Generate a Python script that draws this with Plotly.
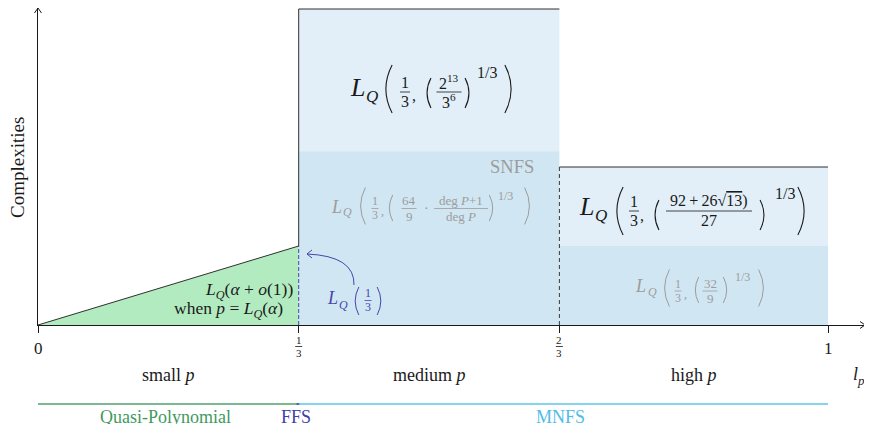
import plotly.graph_objects as go

W, H = 864, 416          # figure size; the page adds an 8px body margin
OFF = 8
SERIF = "Liberation Serif"

# ---------------- data ----------------
boundaries = [0, 0.33, 0.66, 1]
tick_labels = ["0", "1/3", "2/3", "1"]
regime_labels = ["small <i>p</i>", "medium <i>p</i>", "high <i>p</i>"]
quasi_poly_top = 2.5          # L_Q(1/3) reached at l_p = 1/3
medium_mnfs = 10              # MNFS complexity, medium p
medium_snfs = 5.5             # SNFS complexity, medium p
high_mnfs = 5                 # MNFS complexity, high p
high_snfs = 2.5               # SNFS complexity, high p
algo_names = ["Quasi-Polynomial", "FFS", "MNFS"]
algo_from = [0, 0.33, 0.33]
algo_to = [0.33, 0.33, 1]
algo_colors = ["#4f9f6c", "#4545ad", "#5cc6ea"]
algo_text_colors = ["#3f9a60", "#4040aa", "#4dbde6"]

# ---------------- geometry (page pixels) ----------------
X0PX, XPX = 38, 790      # x=0 pixel, pixels per unit
Y0PX, YPX = 325, 31.6    # y=0 pixel, pixels per unit
X_END, Y_END = 827 / XPX, 317 / YPX

LIGHT = "#e2eff8"
DARK = "#d1e6f3"
GREEN = "#b3ebc1"
GRAY = "#9c9c9c"
INK = "#1a1a1a"


def dx(v):
    return X0PX + v * XPX


def dy(v):
    return Y0PX - v * YPX


def pp(px, py):
    return (px - OFF) / W, 1 - (py - OFF) / H


annotations = []
shapes = []


def txt(s, px, py, size, color=INK, xanchor="center", angle=0):
    x, y = pp(px, py)
    annotations.append(dict(text=s, x=x, y=y, xref="paper", yref="paper", showarrow=False,
                            xanchor=xanchor, yanchor="middle", textangle=angle, borderpad=0,
                            font=dict(family=SERIF, size=size, color=color)))


def hline(x0, x1, py, color, width=0.9):
    a, b = pp(x0, py)
    c, _ = pp(x1, py)
    shapes.append(dict(type="line", xref="paper", yref="paper", x0=a, x1=c, y0=b, y1=b,
                       line=dict(color=color, width=width)))


def frac(num, den, cx, ybar, size, color, hw):
    txt(num, cx, ybar - 0.6 * size, size, color)
    txt(den, cx, ybar + 0.58 * size, size, color)
    hline(cx - hw, cx + hw, ybar, color, 0.8)


def paren(side, cx, cy, h, color, width=1.1):
    bw = 0.13 * h
    sgn = 1 if side == "(" else -1
    xe = cx + sgn * bw / 2
    xm = cx - sgn * bw / 2
    xc = 2 * xm - xe
    x0, y0 = pp(xe, cy - h / 2)
    x1, y1 = pp(xe, cy + h / 2)
    xcp, ycp = pp(xc, cy)
    shapes.append(dict(type="path", xref="paper", yref="paper",
                       path=f"M {x0:.5f},{y0:.5f} Q {xcp:.5f},{ycp:.5f} {x1:.5f},{y1:.5f}",
                       line=dict(color=color, width=width)))


def chevron(tipx, tipy, ax, ay, bx, by, color, width=1):
    a = pp(tipx, tipy)
    b = pp(ax, ay)
    c = pp(bx, by)
    shapes.append(dict(type="path", xref="paper", yref="paper",
                       path=f"M {b[0]:.5f},{b[1]:.5f} L {a[0]:.5f},{a[1]:.5f} L {c[0]:.5f},{c[1]:.5f}",
                       line=dict(color=color, width=width)))


fig = go.Figure()

# ---------------- regions ----------------
b0, b1, b2, b3 = boundaries
rects = [(b1, b2, medium_snfs, medium_mnfs, LIGHT), (b1, b2, 0, medium_snfs, DARK),
         (b2, b3, high_snfs, high_mnfs, LIGHT), (b2, b3, 0, high_snfs, DARK)]
for x0, x1, y0, y1, c in rects:
    shapes.append(dict(type="rect", xref="x", yref="y", x0=x0, x1=x1, y0=y0, y1=y1,
                       fillcolor=c, line=dict(width=0), layer="below"))

fig.add_trace(go.Scatter(x=[b0, b1, b1, b0], y=[0, 0, quasi_poly_top, 0], fill="toself",
                         fillcolor=GREEN, mode="lines", line=dict(width=0), hoverinfo="skip"))
fig.add_trace(go.Scatter(x=[b0, b1], y=[0, quasi_poly_top], mode="lines",
                         line=dict(color=INK, width=0.9), hoverinfo="skip"))
# borders
fig.add_trace(go.Scatter(x=[b1, b1, b2], y=[quasi_poly_top, medium_mnfs, medium_mnfs], mode="lines",
                         line=dict(color=INK, width=0.9), hoverinfo="skip"))
fig.add_trace(go.Scatter(x=[b2, b3], y=[high_mnfs, high_mnfs], mode="lines",
                         line=dict(color=INK, width=0.9), hoverinfo="skip"))
fig.add_trace(go.Scatter(x=[b2, b2], y=[0, high_mnfs], mode="lines",
                         line=dict(color="#3a3a3a", width=1, dash="4px,3px"), hoverinfo="skip"))
fig.add_trace(go.Scatter(x=[b1, b1], y=[0, quasi_poly_top], mode="lines",
                         line=dict(color=algo_colors[1], width=1, dash="4px,2px"), hoverinfo="skip"))

# axis arrowheads
chevron(dx(0), dy(Y_END), dx(0) - 3.5, dy(Y_END) + 5, dx(0) + 3.5, dy(Y_END) + 5, INK)
chevron(dx(X_END), dy(0), dx(X_END) - 5, dy(0) - 3.5, dx(X_END) - 5, dy(0) + 3.5, INK)

# ---------------- tick labels ----------------
for v, lab in zip(boundaries, tick_labels):
    if "/" in lab:
        n, d = lab.split("/")
        frac(n, d, dx(v), 346.5, 11, INK, 3.5)
    else:
        txt(lab, dx(v), 348, 17)

for i, lab in enumerate(regime_labels):
    txt(lab, dx((boundaries[i] + boundaries[i + 1]) / 2), 375, 18)
txt("<i>l</i>", 855, 374, 18)
txt("<i>p</i>", 861, 380, 13)
txt("Complexities", 17, 168, 19, angle=-90)

# algorithm bands
for name, a, b, lc, tc in zip(algo_names, algo_from, algo_to, algo_colors, algo_text_colors):
    if a == b:
        hline(dx(a) - 2, dx(b) + 1, 404, lc, 1.6)
        txt(name, dx(a) - 3, 417, 18, tc)
    else:
        hline(dx(a), dx(b), 404, lc, 1.6)
        txt(name, (dx(a) + dx(b)) / 2 - 3, 417, 18, tc)

# ---------------- formulas ----------------
# medium p, MNFS
txt("<i>L</i>", 357, 87, 26)
txt("<i>Q</i>", 372, 96, 17)
paren("(", 389, 89, 48, INK)
frac("1", "3", 405, 92, 16, INK, 5)
txt(",", 414, 95, 16)
paren("(", 429, 93, 30, INK)
frac("2<sup>13</sup>", "3<sup>6</sup>", 449, 92, 16, INK, 12.5)
paren(")", 467, 93, 30, INK)
txt("1/3", 487, 72, 16)
paren(")", 508, 89, 48, INK)

# medium p, SNFS
txt("SNFS", 512, 167, 18.5, GRAY)
txt("<i>L</i>", 336, 207, 18, GRAY)
txt("<i>Q</i>", 347, 212, 12, GRAY)
paren("(", 363, 206, 37, GRAY, 1)
frac("1", "3", 375, 208.5, 12, GRAY, 3.5)
txt(",", 382, 211, 12, GRAY)
paren("(", 391, 208, 26, GRAY, 1)
frac("64", "9", 409, 208.5, 13, GRAY, 7.5)
txt("·", 426, 208, 14, GRAY)
frac("deg <i>P</i>+1", "deg <i>P</i>", 461, 208.5, 13, GRAY, 27)
paren(")", 491, 208, 26, GRAY, 1)
txt("1/3", 505, 196, 12, GRAY)
paren(")", 527, 206, 37, GRAY, 1)

# high p, MNFS
txt("<i>L</i>", 586, 206, 26)
txt("<i>Q</i>", 601, 215, 17)
paren("(", 620, 211, 48, INK)
frac("1", "3", 634, 211, 16, INK, 5)
txt(",", 642, 215, 16)
paren("(", 657, 215, 30, INK)
frac("92\u2009+\u200926√<span style='text-decoration:overline'>13</span>)", "27", 709, 211, 16, INK, 43)
paren(")", 762, 215, 30, INK)
txt("1/3", 785, 193, 16)
paren(")", 801, 211, 48, INK)

# high p, SNFS
txt("<i>L</i>", 640, 286, 18, GRAY)
txt("<i>Q</i>", 652, 292, 12, GRAY)
paren("(", 667, 288, 37, GRAY, 1)
frac("1", "3", 678, 291, 12, GRAY, 3.5)
txt(",", 685, 294, 12, GRAY)
paren("(", 697, 290, 26, GRAY, 1)
frac("32", "9", 710, 291, 13, GRAY, 7.5)
paren(")", 725, 290, 26, GRAY, 1)
txt("1/3", 742, 277, 12, GRAY)
paren(")", 761, 288, 37, GRAY, 1)

# small p, quasi-polynomial
txt("<i>L</i><sub><i>Q</i></sub>(<i>α</i> + <i>o</i>(1))", 294, 290, 17.5, xanchor="right")
txt("when <i>p</i> = <i>L</i><sub><i>Q</i></sub>(<i>α</i>)", 284, 309, 17.5, xanchor="right")

# FFS label and arrow
FFS = algo_colors[1]
txt("<i>L</i>", 332, 298, 18, FFS)
txt("<i>Q</i>", 343, 305, 12, FFS)
paren("(", 357, 301, 28, FFS, 1)
frac("1", "3", 368, 300.5, 12, FFS, 3.5)
paren(")", 379, 301, 28, FFS, 1)
t0 = pp(354, 285)
tc = pp(355, 256)
t1 = pp(307, 254)
shapes.append(dict(type="path", xref="paper", yref="paper",
                   path=f"M {t0[0]:.5f},{t0[1]:.5f} Q {tc[0]:.5f},{tc[1]:.5f} {t1[0]:.5f},{t1[1]:.5f}",
                   line=dict(color=FFS, width=1)))
chevron(307, 254, 312, 250, 312, 258, FFS)

x_dom = [(X0PX - OFF) / W, min(1.0, (X0PX + X_END * XPX - OFF) / W)]
y_dom = [1 - (Y0PX - OFF) / H, min(1.0, 1 - (Y0PX - Y_END * YPX - OFF) / H)]

fig.update_layout(
    width=W, height=H, margin=dict(l=0, r=0, t=0, b=0),
    paper_bgcolor="white", plot_bgcolor="rgba(0,0,0,0)", showlegend=False,
    xaxis=dict(domain=x_dom, range=[0, X_END],
               showgrid=False, zeroline=False, showline=True, linecolor=INK, linewidth=1,
               ticks="outside", ticklen=7, tickcolor=INK, tickwidth=1,
               tickvals=boundaries, showticklabels=False, fixedrange=True),
    yaxis=dict(domain=y_dom, range=[0, Y_END],
               showgrid=False, zeroline=False, showline=True, linecolor=INK, linewidth=1,
               ticks="", showticklabels=False, fixedrange=True),
    annotations=annotations, shapes=shapes,
)

fig.write_html("out.html")
